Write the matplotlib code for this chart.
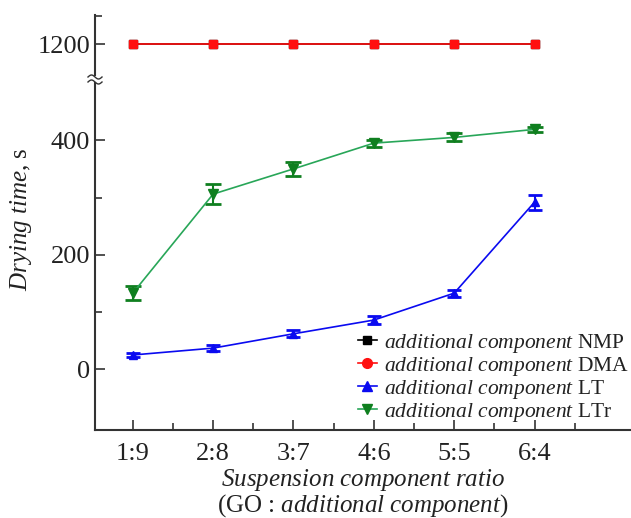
import matplotlib
matplotlib.use("Agg")
import matplotlib.pyplot as plt
from matplotlib.lines import Line2D
import numpy as np

plt.rcParams['font.family'] = ['Liberation Serif', 'DejaVu Serif']
plt.rcParams['mathtext.fontset'] = 'custom'
plt.rcParams['mathtext.rm'] = 'Liberation Serif'
plt.rcParams['mathtext.it'] = 'Liberation Serif:italic'

categories = ['1:9', '2:8', '3:7', '4:6', '5:5', '6:4']
nmp = [1200, 1200, 1200, 1200, 1200, 1200]
dma = [1200, 1200, 1200, 1200, 1200, 1200]
lt = [25, 37, 62, 86, 133, 292]
lt_err = [4, 5, 6, 7, 6, 13]
ltr = [133, 306, 350, 395, 405, 419]
ltr_err = [12, 17, 12, 6, 7, 5]
labels = ['NMP', 'DMA', 'LT', 'LTr']

TXT = '#333333'
W, H = 631, 518
fig = plt.figure(figsize=(W/100, H/100), dpi=100)

left = 95/W
right = 1.0
ax_lo = fig.add_axes([left, 1-430/H, right-left, (430-83)/H])
ax_hi = fig.add_axes([left, 1-75/H, right-left, (75-15)/H])

x = np.arange(1, len(categories)+1)

red = '#ff1010'
blue = '#0a0af0'
gline = '#28a658'
gmark = '#0f7f1f'

for ax in (ax_lo, ax_hi):
    ax.plot(x, nmp, color='black', marker='s', ms=6, lw=1.2, zorder=3)
    ax.plot(x, dma, color=red, marker='s', ms=6, lw=1.2, zorder=4)
    ax.errorbar(x, lt, yerr=lt_err, color=blue, marker='^', ms=6, lw=1.2,
                capsize=5, capthick=2, elinewidth=1.5, zorder=3)
    ax.errorbar(x, ltr, yerr=ltr_err, color=gline, marker='v', ms=7, lw=1.2,
                mfc=gmark, mec=gmark, ecolor=gmark,
                capsize=6, capthick=2, elinewidth=1.5, zorder=3)
    ax.set_xlim(0.53, 7.2)
    for s in ('top', 'right'):
        ax.spines[s].set_visible(False)
    ax.spines['left'].set_color(TXT)
    ax.spines['left'].set_linewidth(1.5)
    ax.spines['bottom'].set_color(TXT)
    ax.spines['bottom'].set_linewidth(1.5)
    ax.tick_params(direction='in', colors=TXT, labelsize=19, width=1.2, length=7)
    ax.tick_params(which='minor', direction='in', colors=TXT, width=1.2, length=5)

ax_lo.set_ylim(-106, 500)
ax_lo.set_yticks([0, 200, 400])
ax_lo.set_yticks([100, 300], minor=True)
ax_lo.set_xticks(x)
ax_lo.set_xticklabels(categories)
ax_lo.set_xticks(x + 0.5, minor=True)
ax_lo.tick_params(axis='x', which='major', length=7, pad=9)
ax_lo.tick_params(axis='x', which='minor', length=5)

ax_hi.set_ylim(1146, 1251)
ax_hi.set_yticks([1200])
ax_hi.set_yticks([1250], minor=True)
ax_hi.spines['bottom'].set_visible(False)
ax_hi.set_xticks([])

for t in ax_lo.get_xticklabels() + ax_lo.get_yticklabels() + ax_hi.get_yticklabels():
    t.set_color('#222222')

fig.text(21/W, 1-219/H, r'$\it{Drying\ time}$, s', fontsize=18, color='#222222',
         rotation=90, ha='center', va='center')
fig.text((95+631)/2/W, 1-480/H, r'$\it{Suspension\ component\ ratio}$', fontsize=18,
         color='#222222', ha='center', va='center')
fig.text((95+631)/2/W, 1-506/H, r'(GO : $\it{additional\ component}$)', fontsize=18,
         color='#222222', ha='center', va='center')

# break marks
t = np.linspace(0, 1, 30)
for yc in (77, 82):
    xs = (88 + 14*t)/W
    ys = 1 - (yc - 2.0*np.sin(2*np.pi*t))/H
    fig.add_artist(Line2D(xs, ys, color=TXT, lw=1.0))

handles = [
    Line2D([], [], color='black', marker='s', ms=6, lw=1.2),
    Line2D([], [], color=red, marker='o', ms=7, lw=1.2),
    Line2D([], [], color=blue, marker='^', ms=7, lw=1.2),
    Line2D([], [], color=gline, marker='v', ms=7, lw=1.2, mfc=gmark, mec=gmark),
]
leg = ax_lo.legend(handles, [r'$\it{additional\ component}$ ' + l for l in labels],
                   loc='lower right', bbox_to_anchor=(1.02, -0.02), frameon=False,
                   fontsize=15.5, handlelength=0.9, handletextpad=0.3,
                   labelspacing=0.0, borderaxespad=0.2)
for txt in leg.get_texts():
    txt.set_color('#222222')

fig.savefig('out.png', dpi=100)
